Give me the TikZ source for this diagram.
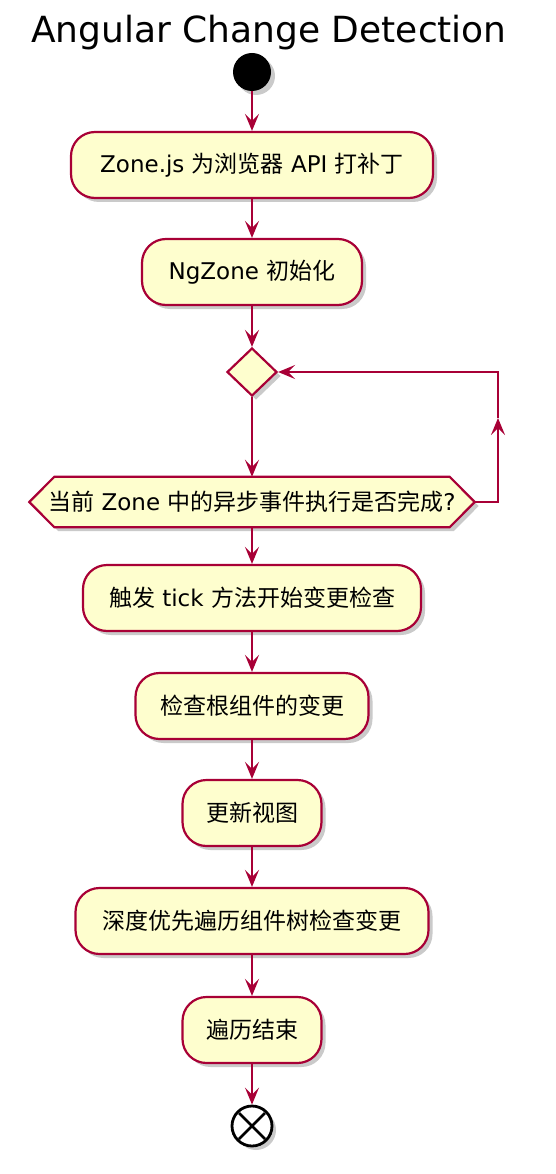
\documentclass[tikz,border=0pt]{standalone}
\usepackage{fontspec}
\setmainfont{DejaVu Sans}
\newfontfamily\cjk{Noto Sans CJK SC}
\usetikzlibrary{arrows.meta,shadows,shapes.geometric}
\definecolor{umlred}{HTML}{A80036}
\definecolor{umlfill}{HTML}{FEFECE}
\tikzset{
  shad/.style={drop shadow={shadow xshift=4pt,shadow yshift=-4pt,opacity=0.35,fill=black!60}},
  txt/.style={font=\fontsize{23}{27}\selectfont},
  act/.style={draw=umlred,fill=umlfill,line width=2.2pt,rounded corners=24pt,
    minimum height=66pt,inner sep=0pt,txt,shad},
  flow/.style={draw=umlred,line width=2.2pt,-{Stealth[length=17pt,width=14pt,inset=7pt]}}
}
\begin{document}
\begin{tikzpicture}[x=1pt,y=-1pt]
\useasboundingbox (0,0) rectangle (556,1174);
\node[font=\fontsize{36}{40}\selectfont] (title) at (269,33) {Angular Change Detection};
\node[circle,fill=black,minimum size=38pt,inner sep=0pt,shad] (start) at (252,72) {};
\node[act,minimum width=362pt] (a1) at (252,165) {Zone.js {\cjk 为浏览器} API {\cjk 打补丁}};
\node[act,minimum width=220pt] (a2) at (252,272) {NgZone {\cjk 初始化}};
\node[diamond,draw=umlred,fill=umlfill,line width=2.2pt,minimum width=50pt,minimum height=48pt,
  inner sep=0pt,shad] (dia) at (252,372) {};
\node[minimum width=445pt,minimum height=50pt,inner sep=0pt] (hex) at (252,502) {};
\filldraw[draw=umlred,fill=umlfill,line width=2.2pt,shad]
  (hex.west) -- ([xshift=25pt]hex.north west) -- ([xshift=-25pt]hex.north east)
  -- (hex.east) -- ([xshift=-25pt]hex.south east) -- ([xshift=25pt]hex.south west) -- cycle;
\node[txt] (hext) at (hex.center) {{\cjk 当前} Zone {\cjk 中的异步事件执行是否完成}?};
\node[act,minimum width=338pt] (a3) at (252,598) {{\cjk 触发} tick {\cjk 方法开始变更检查}};
\node[act,minimum width=233pt] (a4) at (252,706) {\cjk 检查根组件的变更};
\node[act,minimum width=139pt] (a5) at (252,813) {\cjk 更新视图};
\node[act,minimum width=353pt] (a6) at (252,921) {\cjk 深度优先遍历组件树检查变更};
\node[act,minimum width=139pt] (a7) at (252,1030) {\cjk 遍历结束};
\node[circle,draw=black,fill=white,line width=2.8pt,minimum size=40pt,inner sep=0pt,shad] (stop) at (252,1126) {};
\draw[line width=2.8pt] ([shift={(-13pt,-13pt)}]stop.center) -- ([shift={(13pt,13pt)}]stop.center);
\draw[line width=2.8pt] ([shift={(-13pt,13pt)}]stop.center) -- ([shift={(13pt,-13pt)}]stop.center);
\coordinate (lp) at (498,418);
\draw[flow] (start) -- (a1);
\draw[flow] (a1) -- (a2);
\draw[flow] (a2) -- (dia.north);
\draw[flow] (dia.south) -- (hex.north);
\draw[flow] (hex.east) -| (lp);
\draw[flow] (lp) |- (dia.east);
\draw[flow] (hex.south) -- (a3);
\draw[flow] (a3) -- (a4);
\draw[flow] (a4) -- (a5);
\draw[flow] (a5) -- (a6);
\draw[flow] (a6) -- (a7);
\draw[flow] (a7) -- (stop);
\end{tikzpicture}
\end{document}
